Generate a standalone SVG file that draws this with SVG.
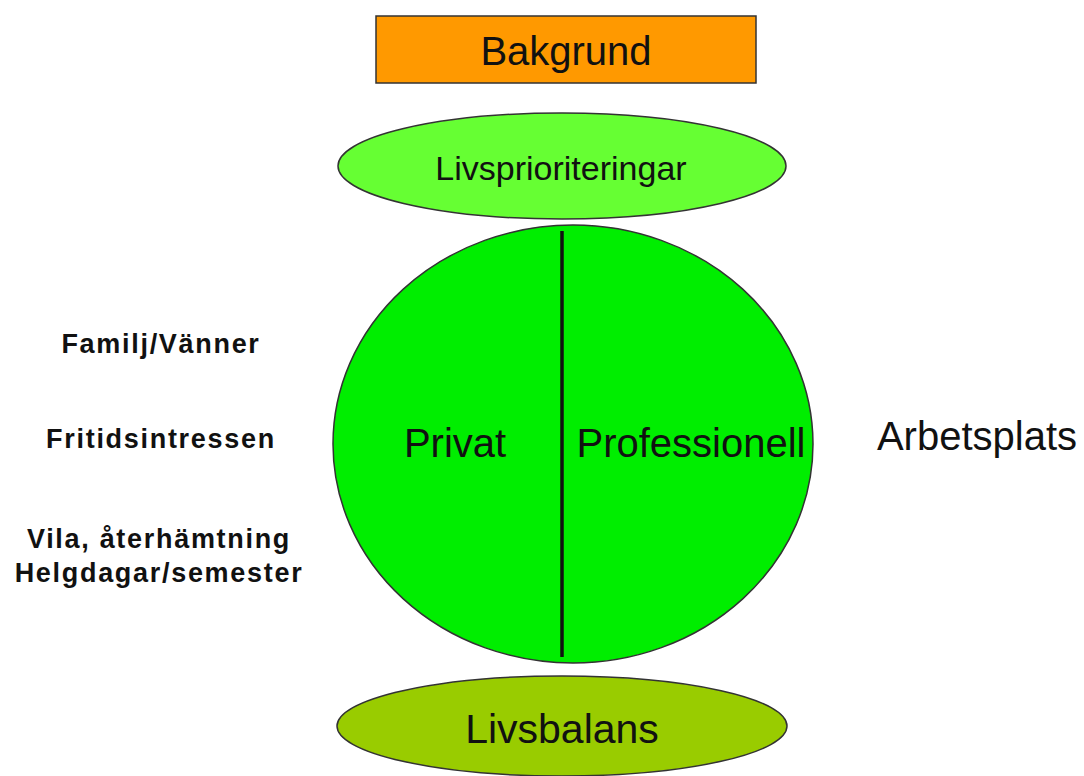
<svg xmlns="http://www.w3.org/2000/svg" width="1084" height="776" viewBox="0 0 1084 776">
<style>
text{font-family:"Liberation Sans",Arial,sans-serif;fill:#111;text-anchor:middle}
.shape{stroke:#333;stroke-width:1.5}
.big{font-size:40px}
.side{font-size:27px;font-weight:bold;letter-spacing:1.7px}
</style>
<rect width="1084" height="776" fill="#fff"/>
<g id="bakgrund">
<rect class="shape" x="376" y="16" width="380" height="67" fill="#FF9900"/>
<text class="big" x="566" y="65">Bakgrund</text>
</g>
<g id="livsprioriteringar">
<ellipse class="shape" cx="562" cy="166" rx="224" ry="53" fill="#66FF33"/>
<text x="561" y="180" font-size="34">Livsprioriteringar</text>
</g>
<g id="cirkel">
<ellipse class="shape" cx="573" cy="444" rx="240" ry="219" fill="#00EE00"/>
<text class="big" x="455" y="457">Privat</text>
<text class="big" x="691" y="457">Professionell</text>
</g>
<g id="connectors">
<line x1="562" y1="231" x2="562" y2="657" stroke="#111" stroke-width="3.5"/>
</g>
<g id="livsbalans">
<ellipse class="shape" cx="562" cy="726" rx="225" ry="50" fill="#99CC00"/>
<text x="562" y="743" font-size="41">Livsbalans</text>
</g>
<g id="arbetsplats">
<text class="big" x="977" y="450">Arbetsplats</text>
</g>
<g id="privat-lista">
<text class="side" x="161" y="353">Familj/Vänner</text>
<text class="side" x="161" y="448">Fritidsintressen</text>
<text class="side" x="159" y="548">Vila, återhämtning</text>
<text class="side" x="159" y="582">Helgdagar/semester</text>
</g>
</svg>
